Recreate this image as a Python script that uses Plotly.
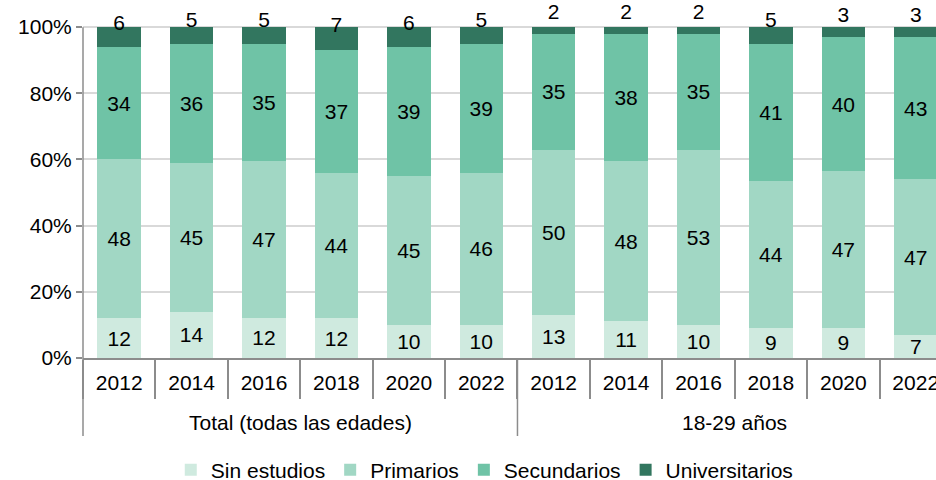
import plotly.graph_objects as go

group_names = ["Total (todas las edades)", "18-29 años"]
groups = [group_names[0]] * 6 + [group_names[1]] * 6
years = ["2012", "2014", "2016", "2018", "2020", "2022"] * 2

sin_estudios = [12, 14, 12, 12, 10, 10, 13, 11, 10, 9, 9, 7]
primarios = [48, 45, 47, 44, 45, 46, 50, 48, 53, 44, 47, 47]
secundarios = [34, 36, 35, 37, 39, 39, 35, 38, 35, 41, 40, 43]
universitarios = [6, 5, 5, 7, 6, 5, 2, 2, 2, 5, 3, 3]

series_names = ["Sin estudios", "Primarios", "Secundarios", "Universitarios"]
colors = ["#cfeadf", "#a1d7c4", "#6fc3a6", "#32765f"]
y_ticks = [0, 20, 40, 60, 80, 100]

FONT = "Liberation Sans, Arial, sans-serif"
FS = 21
AXIS_GRAY = "#8c8c8c"

W, H = 936, 480
M_L, M_R, M_T, M_B = 83, 0, 0, 122
PLOT_H = H - M_T - M_B
Y_MAX = 108.2                # headroom above 100% for the top labels
X_RANGE = [-0.5, 11.28]      # the right-most bar is cut by the page edge

# unique category keys; the axis shows only the year
keys = [f"{g}|{y}" for g, y in zip(groups, years)]

fig = go.Figure()
for name, vals, col in zip(series_names,
                           [sin_estudios, primarios, secundarios, universitarios],
                           colors):
    is_top = name == "Universitarios"
    fig.add_trace(go.Bar(
        x=keys, y=vals, name=name, marker=dict(color=col, line=dict(width=0)),
        text=None if is_top else [str(v) for v in vals],
        textposition="none" if is_top else "inside",
        insidetextanchor="middle", textangle=0,
        insidetextfont=dict(color="#000000", size=FS, family=FONT),
        width=0.6,
    ))

# labels of the top (universitarios) segment, just above the bar tops
fig.add_trace(go.Scatter(
    x=keys, y=[105.6 - 0.8 * v for v in universitarios],
    mode="text", text=[str(v) for v in universitarios],
    textposition="middle center",
    textfont=dict(color="#000000", size=FS, family=FONT),
    showlegend=False, cliponaxis=False, hoverinfo="skip",
))

def px_below(px):
    """paper y for a point px pixels below the x axis"""
    return -px / PLOT_H

# group labels under the year labels
for gname in group_names:
    idx = [i for i, g in enumerate(groups) if g == gname]
    fig.add_annotation(
        x=(idx[0] + idx[-1]) / 2, xref="x", y=px_below(64), yref="paper",
        text=gname, showarrow=False, yanchor="middle",
        font=dict(size=FS, family=FONT, color="#000000"),
    )

shapes = []
# left axis line, from 100% down past the group labels
shapes.append(dict(type="line", xref="paper", x0=0, x1=0, yref="paper",
                   y0=100 / Y_MAX, y1=px_below(78),
                   line=dict(color=AXIS_GRAY, width=1.5)))
# group divider(s)
for gi in range(1, len(group_names)):
    b = groups.index(group_names[gi]) - 0.5
    shapes.append(dict(type="line", xref="x", x0=b, x1=b, yref="paper",
                       y0=0, y1=px_below(78),
                       line=dict(color=AXIS_GRAY, width=1.5)))

fig.update_layout(
    width=W, height=H,
    barmode="stack", barnorm="percent",
    plot_bgcolor="white", paper_bgcolor="white",
    margin=dict(l=M_L, r=M_R, t=M_T, b=M_B, autoexpand=False),
    font=dict(family=FONT, size=FS, color="#000000"),
    uniformtext=dict(minsize=FS, mode="show"),
    legend=dict(orientation="h", x=0.471, xanchor="center",
                yref="container", y=(H - 470) / H, yanchor="middle",
                font=dict(size=FS, family=FONT, color="#000000"),
                traceorder="normal"),
    showlegend=True,
    shapes=shapes,
)
fig.update_xaxes(
    type="category", categoryorder="array", categoryarray=keys,
    tickvals=keys, ticktext=years, range=X_RANGE, automargin=False,
    showline=True, linecolor=AXIS_GRAY, linewidth=1.5,
    ticks="outside", tickson="boundaries", ticklen=39, tickcolor=AXIS_GRAY, tickwidth=1.5,
    ticklabelstandoff=5,
    tickfont=dict(size=FS, family=FONT, color="#000000"),
    showgrid=False,
)
fig.update_yaxes(
    range=[0, Y_MAX], tickvals=y_ticks, ticktext=[f"{v}%" for v in y_ticks],
    automargin=False, showline=False,
    ticks="outside", ticklen=6, tickcolor=AXIS_GRAY, tickwidth=1.5,
    showgrid=True, gridcolor="#d9d9d9", gridwidth=1.5,
    tickfont=dict(size=FS, family=FONT, color="#000000"),
    zeroline=False,
)

fig.write_html(
    "out.html",
    config={"displayModeBar": False},
    post_script="document.body.style.margin='0';document.body.style.overflow='hidden';",
)
